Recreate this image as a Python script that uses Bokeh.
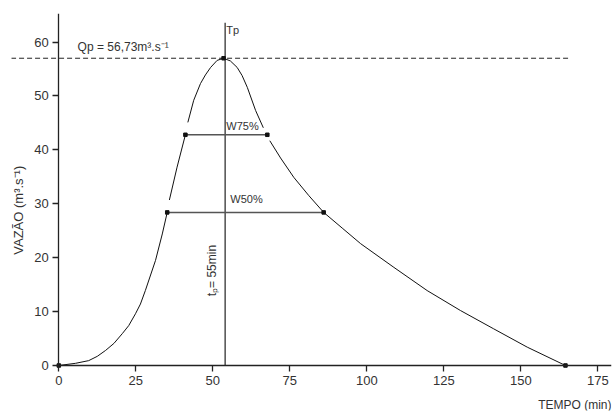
from bokeh.plotting import figure
from bokeh.models import Range1d, SingleIntervalTicker, Label
from bokeh.embed import file_html
from bokeh.resources import INLINE

# ---- data ----
seg1_x = [0, 5.4, 9.7, 12.5, 15.2, 17.9, 20.6, 22.7, 24.9, 26.5, 28.1, 31.4, 33.6, 35.2]
seg1_y = [0, 0.4, 0.9, 1.7, 2.8, 4.1, 5.9, 7.4, 9.6, 11.4, 13.9, 19.5, 24.4, 28.4]
seg2_x = [35.9, 38.4, 41.1]
seg2_y = [30.7, 36.8, 42.8]
seg3_x = [41.9, 43.8, 46.0, 47.6, 49.3, 51.4, 53.5, 55.7, 57.9, 59.5, 61.2, 63.9, 66.4]
seg3_y = [45.1, 49.2, 52.3, 53.9, 55.3, 56.6, 57.0, 56.5, 55.3, 53.8, 51.6, 47.3, 44.1]
seg4_x = [68.5, 72.0, 76.3, 81.2, 86.0, 92.0, 98.0, 108.8, 119.6, 130.4, 141.2, 152.1, 164.5]
seg4_y = [41.7, 38.5, 34.9, 31.5, 28.4, 25.5, 22.6, 18.2, 13.9, 10.2, 6.8, 3.4, 0]

point_x = [0, 35.2, 41.1, 53.5, 67.7, 86.0, 164.5]
point_y = [0, 28.4, 42.8, 57.0, 42.8, 28.4, 0]

w_labels = ["W75%", "W50%"]
w_level = [42.8, 28.4]
w_start = [41.1, 35.2]
w_end = [67.7, 86.0]

qp_value = 57.0
qp_start, qp_end = -15.5, 165.8
tp_value = 54.0
tp_top = 63.6

x_ticks_interval = 25
y_ticks_interval = 10

FONT = "Liberation Sans"
TXT = "#333333"

x0, x1 = -15.36, 179.45
y0, y1 = -8.35, 65.3

p = figure(width=616, height=412, output_backend="svg", toolbar_location=None,
           x_range=Range1d(x0, x1), y_range=Range1d(y0, y1),
           min_border_left=11, min_border_right=5, min_border_top=13, min_border_bottom=2)
p.outline_line_color = None
p.grid.visible = False
p.background_fill_color = "white"

for ax in (p.xaxis[0], p.yaxis[0]):
    ax.axis_line_color = "#222222"
    ax.axis_line_width = 1.3
    ax.major_tick_line_color = "#222222"
    ax.major_tick_line_width = 1.3
    ax.major_tick_out = 6
    ax.major_tick_in = 0
    ax.minor_tick_line_color = None
    ax.major_label_text_font = FONT
    ax.major_label_text_font_size = "13px"
    ax.major_label_text_color = TXT

p.xaxis.ticker = SingleIntervalTicker(interval=x_ticks_interval)
p.xaxis.bounds = (0, x1)
p.xaxis.fixed_location = 0
p.xaxis.major_label_standoff = 5
p.yaxis.ticker = SingleIntervalTicker(interval=y_ticks_interval)
p.yaxis.bounds = (0, y1)
p.yaxis.fixed_location = 0
p.yaxis.major_label_standoff = 4

# dashed Qp line
p.line([qp_start, qp_end], [qp_value, qp_value], line_color="#222222",
       line_width=1, line_dash="5 3")

# Tp vertical line
p.line([tp_value, tp_value], [0, tp_top], line_color="#222222", line_width=1.2)

# W lines
p.segment(x0=w_start, y0=w_level, x1=w_end, y1=w_level, line_color="#555555", line_width=1.5)

# hydrograph curve (drawn with gaps as in the original)
p.multi_line(xs=[seg1_x, seg2_x, seg3_x, seg4_x], ys=[seg1_y, seg2_y, seg3_y, seg4_y],
             line_color="#111111", line_width=1)

p.scatter(point_x, point_y, marker="square", size=3.5, color="#111111")

def lab(x, y, text, size, **kw):
    p.add_layout(Label(x=x, y=y, text=text, text_font=FONT, text_font_size=size,
                       text_color=TXT, **kw))

lab(6.1, 59.1, "Qp = 56,73m³.s⁻¹", "12px", text_baseline="middle")
lab(54.4, 62.3, "Tp", "11px", text_baseline="middle")
lab(54.4, 44.5, w_labels[0], "11px", text_baseline="middle")
lab(55.7, 30.9, w_labels[1], "11px", text_baseline="middle")
lab(49.8, 17.6, "tₚ= 55min", "12px", text_baseline="middle", text_align="center", angle=1.5708)
lab(-13.1, 28.8, "VAZÃO (m³.s⁻¹)", "13px", text_baseline="middle", text_align="center", angle=1.5708)
lab(x1, -6.0, "TEMPO (min)", "12px", text_baseline="top", text_align="right")

open("out.html", "w").write(file_html(p, INLINE))
